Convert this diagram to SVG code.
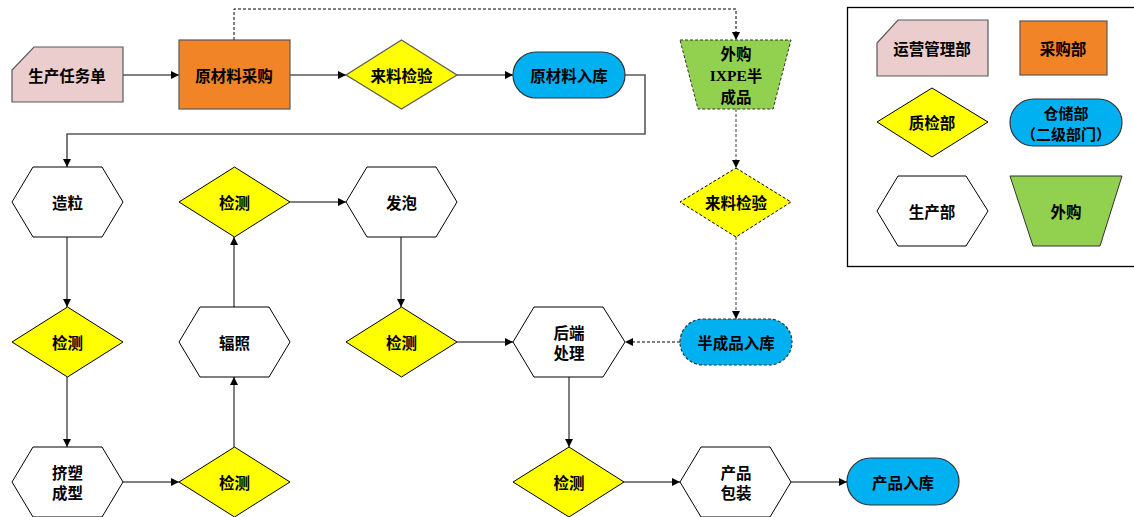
<svg xmlns="http://www.w3.org/2000/svg" width="1134" height="517" viewBox="0 0 1134 517">
<style>
text{font-family:"Noto Sans CJK SC","Liberation Sans",sans-serif;font-weight:bold;font-size:15.5px;fill:#000;text-anchor:middle;dominant-baseline:central}
.lat{font-family:"Liberation Serif","Noto Sans CJK SC",serif;font-weight:bold}
.sm{font-size:15px}
.ops{fill:#EACDCC;stroke:#595959;stroke-width:1.2}
.buy{fill:#F08427;stroke:#595959;stroke-width:1.2}
.qc{fill:#FFFF00;stroke:#000;stroke-width:1}
.qct{fill:#FFFF00;stroke:#595959;stroke-width:1.2}
.st{fill:#00B0F0;stroke:#333;stroke-width:1.2}
.prod{fill:#FFFFFF;stroke:#000;stroke-width:1}
.out{fill:#92D050;stroke:#333;stroke-width:1}
.dash{stroke-dasharray:3 2}
.c1{fill:none;stroke:#595959;stroke-width:1.6}
.c2{fill:none;stroke:#000;stroke-width:1}
.cd{fill:none;stroke:#000;stroke-width:1;stroke-dasharray:3 2}
.cg{fill:none;stroke:#808080;stroke-width:1.5;stroke-dasharray:3 2}
</style>
<defs>
<marker id="ah" viewBox="0 0 8 8" refX="8" refY="4" markerWidth="8" markerHeight="8" markerUnits="userSpaceOnUse" orient="auto">
<path d="M0,0 L8,4 L0,8 Z" fill="#000"/>
</marker>
</defs>

<g id="connectors">
<line class="c1" x1="123" y1="75" x2="179" y2="75" marker-end="url(#ah)"/>
<line class="c1" x1="290" y1="75" x2="346" y2="75" marker-end="url(#ah)"/>
<line class="c1" x1="457" y1="75" x2="513" y2="75" marker-end="url(#ah)"/>
<polyline class="c1" points="625,75 645,75 645,134 67,134 67,167" marker-end="url(#ah)"/>
<polyline class="cd" points="234,40 234,9 736,9 736,40" marker-end="url(#ah)"/>
<line class="cg" x1="736" y1="109" x2="736" y2="168" marker-end="url(#ah)"/>
<line class="cg" x1="736" y1="237" x2="736" y2="319" marker-end="url(#ah)"/>
<line class="cd" x1="680" y1="342" x2="625" y2="342" marker-end="url(#ah)"/>
<line class="c2" x1="67" y1="237" x2="67" y2="307" marker-end="url(#ah)"/>
<line class="c2" x1="67" y1="377" x2="67" y2="447" marker-end="url(#ah)"/>
<line class="c2" x1="123" y1="482" x2="179" y2="482" marker-end="url(#ah)"/>
<line class="c2" x1="234" y1="447" x2="234" y2="377" marker-end="url(#ah)"/>
<line class="c2" x1="234" y1="307" x2="234" y2="237" marker-end="url(#ah)"/>
<line class="c2" x1="290" y1="202" x2="346" y2="202" marker-end="url(#ah)"/>
<line class="c2" x1="401" y1="237" x2="401" y2="307" marker-end="url(#ah)"/>
<line class="c2" x1="457" y1="342" x2="513" y2="342" marker-end="url(#ah)"/>
<line class="c2" x1="569" y1="377" x2="569" y2="447" marker-end="url(#ah)"/>
<line class="c2" x1="624" y1="482" x2="680" y2="482" marker-end="url(#ah)"/>
<line class="c2" x1="791" y1="482" x2="847" y2="482" marker-end="url(#ah)"/>
</g>

<g id="n-task"><polygon class="ops" points="34,47 123,47 123,102 12,102 12,70"/><text x="67" y="75">生产任务单</text></g>
<g id="n-purchase"><rect class="buy" x="179" y="40" width="111" height="69"/><text x="234" y="75">原材料采购</text></g>
<g id="n-iqc1"><polygon class="qct" points="401.5,40 457,75 401.5,109 346,75"/><text x="401.5" y="75">来料检验</text></g>
<g id="n-rawstore"><rect class="st" x="513" y="52" width="112" height="46" rx="23"/><text x="569" y="75">原材料入库</text></g>
<g id="n-outsource"><polygon class="out dash" points="680,40 791,40 773,109 698,109"/><text x="736" y="53">外购</text><text x="736" y="75"><tspan class="lat">IXPE</tspan>半</text><text x="736" y="96">成品</text></g>

<g id="n-granulate"><polygon class="prod" points="12,202 33,167 102,167 123,202 102,237 33,237"/><text x="67.5" y="202">造粒</text></g>
<g id="n-qc2"><polygon class="qc" points="234.5,167 290,202 234.5,237 179,202"/><text x="234.5" y="202">检测</text></g>
<g id="n-foam"><polygon class="prod" points="346,202 367,167 436,167 457,202 436,237 367,237"/><text x="401.5" y="202">发泡</text></g>
<g id="n-iqc2"><polygon class="qc dash" points="736,168 791,202 736,237 680,202"/><text x="736" y="202">来料检验</text></g>

<g id="n-qc1"><polygon class="qc" points="67.5,307 123,342 67.5,377 12,342"/><text x="67.5" y="342">检测</text></g>
<g id="n-irradiate"><polygon class="prod" points="179,342 200,307 269,307 290,342 269,377 200,377"/><text x="234.5" y="342">辐照</text></g>
<g id="n-qc3"><polygon class="qc" points="401.5,307 457,342 401.5,377 346,342"/><text x="401.5" y="342">检测</text></g>
<g id="n-post"><polygon class="prod" points="513,342 534,307 603,307 625,342 603,377 534,377"/><text x="569" y="332">后端</text><text x="569" y="352">处理</text></g>
<g id="n-semistore"><rect class="st dash" x="680" y="319" width="112" height="46" rx="23"/><text x="736" y="342">半成品入库</text></g>

<g id="n-extrude"><polygon class="prod" points="12,482 33,447 102,447 123,482 102,517 33,517"/><text x="67.5" y="472">挤塑</text><text x="67.5" y="492">成型</text></g>
<g id="n-qc4"><polygon class="qc" points="234.5,447 290,482 234.5,517 179,482"/><text x="234.5" y="482">检测</text></g>
<g id="n-qc5"><polygon class="qc" points="569,447 624,482 569,517 513,482"/><text x="569" y="482">检测</text></g>
<g id="n-pack"><polygon class="prod" points="680,482 701,447 770,447 791,482 770,517 701,517"/><text x="736" y="472">产品</text><text x="736" y="492">包装</text></g>
<g id="n-prodstore"><rect class="st" x="847" y="458" width="112" height="47" rx="23.5"/><text x="903" y="482">产品入库</text></g>

<g id="legend">
<rect x="847.5" y="7.5" width="290" height="259" fill="#fff" stroke="#000" stroke-width="1.3"/>
<g id="lg-ops"><polygon class="ops" points="898,20 988,20 988,76 877,76 877,43"/><text x="932" y="48">运营管理部</text></g>
<g id="lg-buy"><rect class="buy" x="1020" y="21" width="87" height="54"/><text x="1063" y="48">采购部</text></g>
<g id="lg-qc"><polygon class="qc" points="932,88 988,122 932,157 877,122"/><text x="932" y="122">质检部</text></g>
<g id="lg-store"><rect class="st" x="1010" y="99" width="112" height="47" rx="23.5"/><text class="sm" x="1066" y="112">仓储部</text><text class="sm" x="1066" y="133">（二级部门）</text></g>
<g id="lg-prod"><polygon class="prod" points="877,211 898,176 966,176 988,211 966,246 898,246"/><text x="932" y="211">生产部</text></g>
<g id="lg-out"><polygon class="out" points="1010,176 1122,176 1100,246 1033,246"/><text x="1066" y="211">外购</text></g>
</g>
</svg>
